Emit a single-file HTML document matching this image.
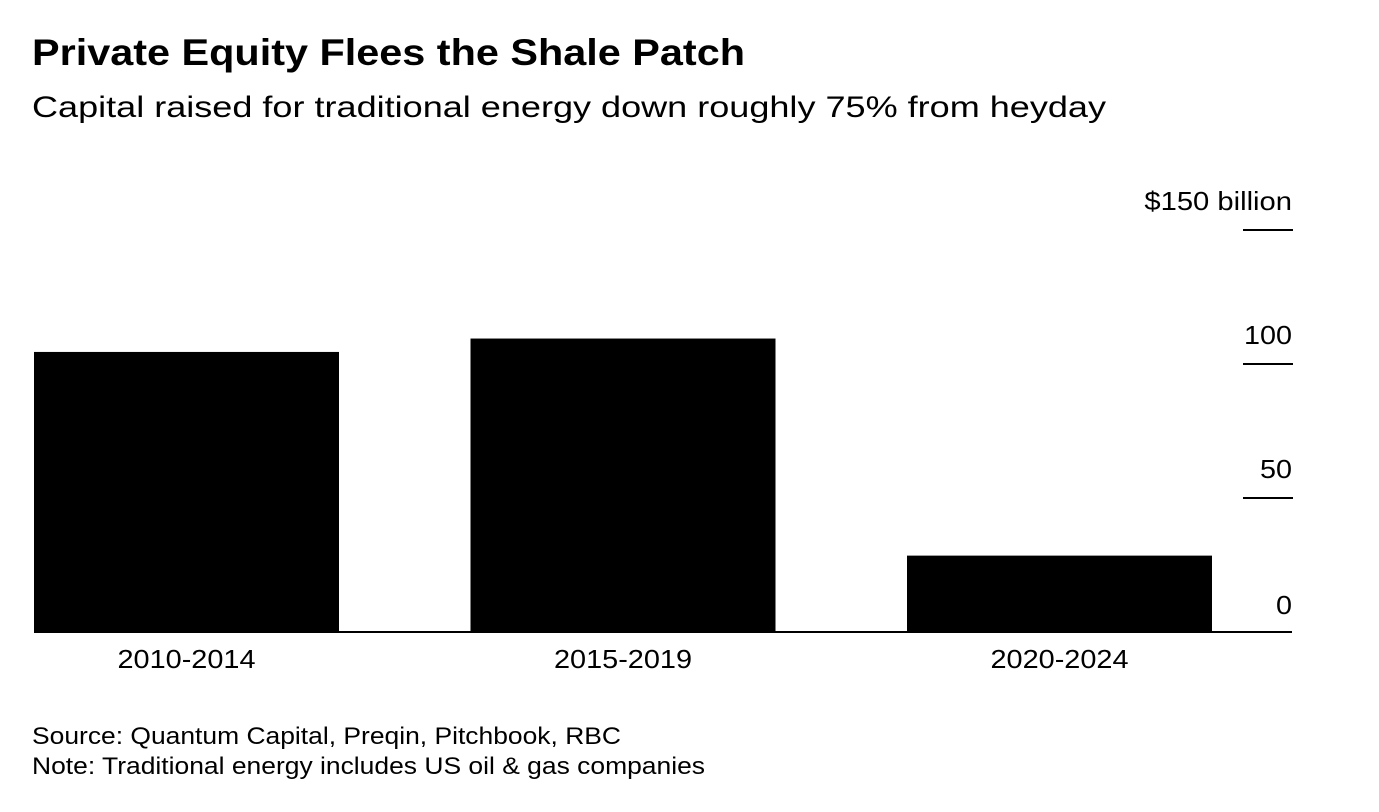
<!DOCTYPE html>
<html><head><meta charset="utf-8"><style>
body{margin:0;background:#fff;width:1379px;height:812px;overflow:hidden;font-family:"Liberation Sans",Arial,sans-serif;color:#000}
svg{position:absolute;left:0;top:0}
</style></head><body>
<svg width="1379" height="812">
<text x="32" y="65" font-size="37" font-weight="bold" textLength="713" lengthAdjust="spacingAndGlyphs">Private Equity Flees the Shale Patch</text>
<text x="32" y="117" font-size="30" textLength="1074" lengthAdjust="spacingAndGlyphs">Capital raised for traditional energy down roughly 75% from heyday</text>
<g id="axis"></g>
<g id="bars"></g>
<text x="32" y="744" font-size="24" textLength="589" lengthAdjust="spacingAndGlyphs">Source: Quantum Capital, Preqin, Pitchbook, RBC</text>
<text x="32" y="774" font-size="24" textLength="673" lengthAdjust="spacingAndGlyphs">Note: Traditional energy includes US oil &amp; gas companies</text>
</svg>
<script>
const categories=["2010-2014","2015-2019","2020-2024"];
const values=[104.5,109.5,28.5];
const ticks=[0,50,100,150];
const tickLabels=["0","50","100","$150 billion"];
const NS="http://www.w3.org/2000/svg";
const y0=632,yTop=230,vmax=150;
const y=v=>y0-(y0-yTop)*v/vmax;
const x0=34,step=436.5,bw=305;
const x=i=>x0+i*step;
const axis=document.getElementById("axis"),bars=document.getElementById("bars");
function mk(tag,attrs,parent){const e=document.createElementNS(NS,tag);for(const k in attrs)e.setAttribute(k,attrs[k]);parent.appendChild(e);return e;}
ticks.forEach((t,i)=>{
 if(t>0){const l=mk("line",{x1:1243,x2:1293,y1:y(t),y2:y(t),stroke:"#000","stroke-width":2},axis);
 
 }
 const tx=mk("text",{x:1292,y:y(t)-(t>0?20:18),"font-size":26,"text-anchor":"end"},axis);
 tx.textContent=tickLabels[i];
 tx.setAttribute("textLength",tickLabels[i].length*(tickLabels[i].length>5?12.3:16));
 tx.setAttribute("lengthAdjust","spacingAndGlyphs");
 
 
});
categories.forEach((c,i)=>{
 const r=mk("rect",{x:x(i),y:y(values[i]),width:bw,height:y0-y(values[i]),fill:"#000"},bars);
 
 
 const t=mk("text",{x:x(i)+bw/2,y:668,"font-size":26,"text-anchor":"middle",textLength:138,lengthAdjust:"spacingAndGlyphs"},bars);
 t.textContent=c;
 
 
});
const b=mk("line",{x1:34,x2:1292,y1:y0,y2:y0,stroke:"#000","stroke-width":2},axis);


</script>
</body></html>
